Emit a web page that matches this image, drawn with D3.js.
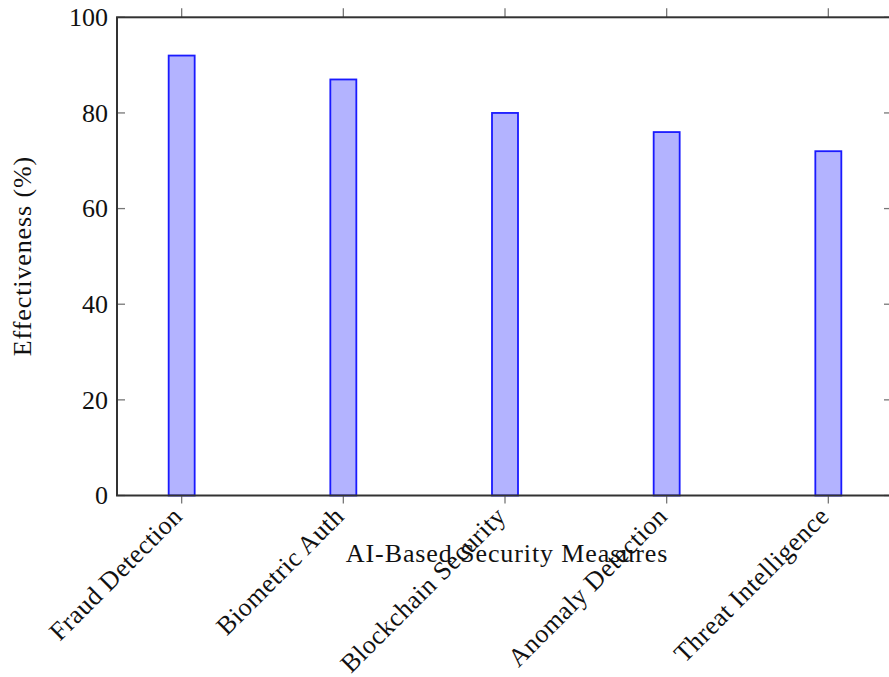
<!DOCTYPE html>
<html><head><meta charset="utf-8">
<script src="https://cdn.jsdelivr.net/npm/d3@7"></script>
<style>body{margin:0;background:#fff}svg{display:block}text{font-family:"Liberation Serif","DejaVu Serif",serif;fill:#111}</style>
</head><body><svg id="c" width="889" height="677"></svg>
<script>
const categories = ["Fraud Detection","Biometric Auth","Blockchain Security","Anomaly Detection","Threat Intelligence"];
const values = [92, 87, 80, 76, 72];
const yTicks = [0, 20, 40, 60, 80, 100];

const svg = d3.select("#c");
const L = 117, R = 893, T = 17.3, B = 495.5;
const x = d3.scaleLinear().domain([-0.4, categories.length - 1 + 0.4]).range([L, R]);
const y = d3.scaleLinear().domain([0, 100]).range([B, T]);
const barW = 26;
const FS = 26, LS = 0.9;

// bars
svg.append("g").selectAll("rect").data(values).join("rect")
  .attr("x", (d,i) => x(i) - barW/2).attr("y", d => y(d))
  .attr("width", barW).attr("height", d => y(0) - y(d))
  .attr("fill", "#b3b3ff").attr("stroke", "#1a1aff").attr("stroke-width", 1.8);

// ticks
const tickCol = "#777";
const xt = svg.append("g");
categories.forEach((c,i) => {
  xt.append("line").attr("x1", x(i)).attr("x2", x(i)).attr("y1", B).attr("y2", B + 8).attr("stroke", tickCol).attr("stroke-width", 1.3);
  xt.append("line").attr("x1", x(i)).attr("x2", x(i)).attr("y1", T).attr("y2", T - 9).attr("stroke", tickCol).attr("stroke-width", 1.3);
});
const yt = svg.append("g");
yTicks.forEach(t => {
  yt.append("line").attr("x1", L).attr("x2", L + 8).attr("y1", y(t)).attr("y2", y(t)).attr("stroke", tickCol).attr("stroke-width", 1.3);
  yt.append("line").attr("x1", R).attr("x2", R - 9).attr("y1", y(t)).attr("y2", y(t)).attr("stroke", tickCol).attr("stroke-width", 1.3);
  yt.append("text").attr("x", L - 9).attr("y", y(t)).attr("dy", "0.34em")
    .attr("text-anchor", "end").attr("font-size", FS).text(t);
});

// frame
svg.append("rect").attr("x", L).attr("y", T).attr("width", R - L).attr("height", B - T)
  .attr("fill", "none").attr("stroke", "#333").attr("stroke-width", 2);

// x tick labels
svg.append("g").selectAll("text").data(categories).join("text")
  .attr("transform", (d,i) => `translate(${x(i) - 4},${B + 16}) rotate(-45)`)
  .attr("text-anchor", "end").attr("dy", "0.34em").attr("font-size", FS)
  .attr("letter-spacing", 0.5).text(d => d);

// axis titles
svg.append("text").attr("x", 507).attr("y", 553).attr("dy", "0.34em")
  .attr("text-anchor", "middle").attr("font-size", FS).attr("letter-spacing", LS).text("AI-Based Security Measures");
svg.append("text").attr("transform", `translate(22,256) rotate(-90)`).attr("dy", "0.34em")
  .attr("text-anchor", "middle").attr("font-size", FS).attr("letter-spacing", LS).text("Effectiveness (%)");
</script></body></html>
